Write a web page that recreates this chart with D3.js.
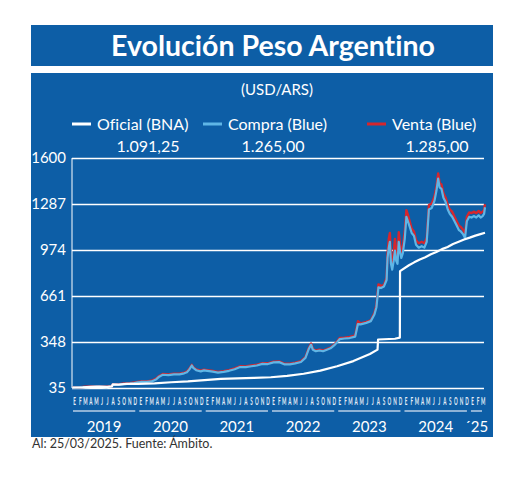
<!DOCTYPE html>
<html>
<head>
<meta charset="utf-8">
<script src="https://cdn.jsdelivr.net/npm/d3@7"></script>
<style>
    body { margin: 0; background: #fff; }
    text { font-family: Lato, "Open Sans", sans-serif; font-variant-ligatures: none; }
</style>
</head>
<body>
<svg id="chart" width="520" height="477"></svg>
<script>
// Blue market (compra / venta) sampled from the chart
const blueDates = [
    "2019-01-02", "2019-01-20", "2019-02-15", "2019-03-15", "2019-04-15", "2019-05-15", "2019-06-15", "2019-07-10",
    "2019-08-08", "2019-08-14", "2019-09-01", "2019-09-20", "2019-10-15", "2019-11-15", "2019-12-10", "2019-12-28",
    "2020-01-15", "2020-02-15", "2020-03-15", "2020-04-10", "2020-04-25", "2020-05-15", "2020-06-15", "2020-07-15",
    "2020-08-15", "2020-09-10", "2020-09-25", "2020-10-08", "2020-10-22", "2020-10-30", "2020-11-15", "2020-12-10",
    "2020-12-28", "2021-01-15", "2021-02-15", "2021-03-15", "2021-04-15", "2021-05-15", "2021-06-15", "2021-07-15",
    "2021-08-15", "2021-09-15", "2021-10-15", "2021-11-15", "2021-12-15", "2022-01-15", "2022-02-15", "2022-03-15",
    "2022-04-15", "2022-05-15", "2022-06-15", "2022-07-10", "2022-07-28", "2022-08-10", "2022-08-20", "2022-09-05",
    "2022-09-25", "2022-10-15", "2022-11-05", "2022-11-25", "2022-12-15", "2022-12-30", "2023-01-15", "2023-02-10",
    "2023-03-10", "2023-04-10", "2023-04-25", "2023-05-10", "2023-06-10", "2023-07-05", "2023-07-25", "2023-08-05",
    "2023-08-16", "2023-08-30", "2023-09-15", "2023-09-30", "2023-10-05", "2023-10-12", "2023-10-18", "2023-10-24",
    "2023-10-31", "2023-11-08", "2023-11-15", "2023-11-22", "2023-11-29", "2023-12-06", "2023-12-13", "2023-12-20",
    "2023-12-28", "2024-01-08", "2024-01-17", "2024-01-25", "2024-02-05", "2024-02-15", "2024-02-28", "2024-03-10",
    "2024-03-25", "2024-04-10", "2024-04-25", "2024-05-08", "2024-05-20", "2024-06-05", "2024-06-20", "2024-07-01",
    "2024-07-10", "2024-07-18", "2024-07-28", "2024-08-08", "2024-08-20", "2024-09-01", "2024-09-12", "2024-09-25",
    "2024-10-08", "2024-10-20", "2024-11-01", "2024-11-12", "2024-11-25", "2024-12-05", "2024-12-15", "2024-12-28",
    "2025-01-10", "2025-01-22", "2025-02-05", "2025-02-18", "2025-03-01", "2025-03-12", "2025-03-20", "2025-03-25"
];
const compra = [
    37.5, 37, 39, 41.5, 43, 44, 42.5, 41.5,
    45, 56, 57, 58, 63, 65, 68, 73,
    76, 77, 80, 95, 112, 125, 123, 128,
    128, 135, 142, 160, 188, 172, 156, 148,
    155, 152, 146, 140, 145, 152, 163, 178,
    177, 183, 188, 199, 198, 209, 211, 196,
    196, 203, 212, 240, 300, 330, 295, 285,
    290, 285, 295, 305, 325, 345, 368, 372,
    375, 385, 470, 468, 478, 490, 535, 585,
    720, 715, 725, 770, 920, 990, 1030, 880,
    840, 900, 970, 900, 880, 1030, 960, 920,
    950, 1050, 1200, 1170, 1130, 1090, 1070, 1010,
    990, 1000, 990, 1030, 1250, 1260, 1310, 1380,
    1460, 1400, 1390, 1330, 1300, 1250, 1220, 1200,
    1170, 1140, 1110, 1100, 1080, 1055, 1170, 1200,
    1195, 1205, 1195, 1210, 1195, 1205, 1220, 1265
];
const venta = [
    39, 38.5, 40.5, 43.5, 45, 46, 44.5, 43.5,
    47, 60, 60, 61, 66, 68, 72, 77,
    79, 80, 84, 100, 117, 130, 128, 133,
    133, 140, 147, 165, 193, 177, 161, 153,
    160, 157, 151, 145, 150, 157, 168, 183,
    182, 188, 193, 204, 203, 214, 216, 201,
    201, 208, 217, 245, 306, 338, 300, 290,
    295, 290, 300, 310, 330, 350, 375, 377,
    382, 392, 490, 475, 485, 495, 545, 600,
    740, 730, 735, 785, 950, 1050, 1090, 940,
    880, 950, 1050, 960, 920, 1095, 1010, 960,
    990, 1100, 1245, 1215, 1165, 1120, 1100, 1040,
    1020, 1030, 1020, 1055, 1280, 1290, 1340, 1410,
    1495, 1430, 1420, 1360, 1330, 1280, 1250, 1235,
    1200, 1170, 1140, 1130, 1110, 1085, 1200, 1230,
    1225, 1235, 1225, 1240, 1225, 1235, 1245, 1285
];

// Official rate (Banco Nación)
const oficialDates = [
    "2019-01-02", "2019-03-01", "2019-04-15", "2019-06-01", "2019-07-15", "2019-08-09", "2019-08-13", "2019-09-15",
    "2019-10-31", "2019-12-31", "2020-03-31", "2020-06-30", "2020-09-30", "2020-12-31", "2021-03-31", "2021-06-30",
    "2021-09-30", "2021-12-31", "2022-03-31", "2022-06-30", "2022-09-30", "2022-12-31", "2023-03-31", "2023-06-30",
    "2023-08-11", "2023-08-14", "2023-11-15", "2023-12-12", "2023-12-13", "2024-01-31", "2024-02-29", "2024-03-31",
    "2024-04-30", "2024-05-31", "2024-06-30", "2024-07-31", "2024-08-31", "2024-09-30", "2024-10-31", "2024-11-30",
    "2024-12-31", "2025-01-31", "2025-02-28", "2025-03-25"
];
const oficial = [
    38.5, 40, 43, 44, 42.5, 46, 59, 58,
    63, 63, 67, 74, 80, 89, 97, 101,
    104, 108, 117, 132, 153, 183, 218, 266,
    296, 365, 370, 378, 830, 870, 890, 910,
    925, 945, 960, 980, 995, 1015, 1030, 1045,
    1058, 1072, 1082, 1091.25
];

const yTicks = [35, 348, 661, 974, 1287, 1600];
const monthLetters = ["E", "F", "M", "A", "M", "J", "J", "A", "S", "O", "N", "D"];
const years = ["2019", "2020", "2021", "2022", "2023", "2024", "´25"];
const seriesNames = ["Oficial (BNA)", "Compra (Blue)", "Venta (Blue)"];

const BLUE = "#0d5ea6";
const LIGHT = "#5fb6e6";
const RED = "#d6262d";
const LEFT = 72, RIGHT = 485, TOP = 158, BOTTOM = 388;

const parse = d3.timeParse("%Y-%m-%d");
const es = d3.formatLocale({decimal: ",", thousands: ".", grouping: [3], currency: ["$", ""]});
const fmt = es.format(",.2f");

let svg = d3.select("#chart");

// panels
svg.append("rect")
    .attr("x", 31).attr("y", 25)
    .attr("width", 462).attr("height", 41)
    .attr("fill", BLUE);
svg.append("rect")
    .attr("x", 31).attr("y", 73)
    .attr("width", 462).attr("height", 364)
    .attr("fill", BLUE);

svg.append("text")
    .text("Evolución Peso Argentino")
    .attr("x", 273).attr("y", 56)
    .attr("text-anchor", "middle")
    .attr("fill", "#fff")
    .style("font-size", "28.5px")
    .style("font-weight", "bold");

svg.append("text")
    .text("(USD/ARS)")
    .attr("x", 277).attr("y", 95)
    .attr("text-anchor", "middle")
    .attr("fill", "#fff")
    .style("font-size", "15px");

// legend
let lastValues = [oficial[oficial.length - 1], compra[compra.length - 1], venta[venta.length - 1]];
let legend = [
    {name: seriesNames[0], color: "#fff", x: 72, val: 148},
    {name: seriesNames[1], color: LIGHT, x: 203, val: 273},
    {name: seriesNames[2], color: RED, x: 367, val: 437}
];
legend.forEach((d, i) => {
    svg.append("line")
        .attr("x1", d.x).attr("x2", d.x + 19)
        .attr("y1", 124).attr("y2", 124)
        .attr("stroke", d.color)
        .attr("stroke-width", 3);
    svg.append("text")
        .text(d.name)
        .attr("x", d.x + 25).attr("y", 130)
        .attr("fill", "#fff")
        .style("font-size", "16px");
    svg.append("text")
        .text(fmt(lastValues[i]))
        .attr("x", d.val).attr("y", 152)
        .attr("text-anchor", "middle")
        .attr("fill", "#fff")
        .style("font-size", "16px");
});

let x = d3.scaleTime()
    .domain([parse("2019-01-01"), parse("2025-03-25")])
    .range([LEFT, RIGHT]);
let y = d3.scaleLinear()
    .domain([35, 1600])
    .range([BOTTOM, TOP]);

// grid + y labels
let yAxis = svg.append("g")
    .attr("transform", "translate(" + LEFT + ",0)")
    .call(d3.axisLeft(y).tickValues(yTicks).tickSize(-(RIGHT - LEFT - 1)).tickPadding(6).tickFormat(d => d));
yAxis.select(".domain").remove();
yAxis.selectAll("line")
    .attr("stroke", "#fff")
    .attr("stroke-width", 1.6);
yAxis.selectAll("text")
    .attr("fill", "#fff")
    .style("font-size", "15px")
    .style("font-family", "Lato, sans-serif");

svg.append("line")
    .attr("x1", LEFT).attr("x2", LEFT)
    .attr("y1", TOP).attr("y2", BOTTOM)
    .attr("stroke", "#fff")
    .attr("stroke-width", 1);

// month letters, centred a little inside each month
let months = d3.timeMonth.range(parse("2019-01-01"), parse("2025-04-01"));
let xAxis = svg.append("g")
    .attr("transform", "translate(0,396)")
    .call(d3.axisBottom(x).tickValues(months).tickSize(0).tickPadding(1).tickFormat(d => monthLetters[d.getMonth()]));
xAxis.select(".domain").remove();
xAxis.selectAll("text")
    .attr("text-anchor", "middle")
    .attr("x", 5)
    .attr("transform", "scale(0.42,1)")
    .attr("fill", "#e4edf7")
    .style("font-size", "11px")
    .style("font-weight", "bold")
    .style("font-family", "Lato, sans-serif");

// year brackets
years.forEach((label, i) => {
    let start = new Date(2019 + i, 0, 1);
    let end = i < years.length - 1 ? new Date(2020 + i, 0, 1) : parse("2025-03-25");
    let x1 = x(start) + 1, x2 = x(end) - 3;
    svg.append("line")
        .attr("x1", x1).attr("x2", x2)
        .attr("y1", 411).attr("y2", 411)
        .attr("stroke", "#b9cfe6")
        .attr("stroke-width", 1.5);
    svg.append("text")
        .text(label)
        .attr("x", (x1 + x2) / 2).attr("y", 432)
        .attr("text-anchor", "middle")
        .attr("fill", "#fff")
        .style("font-size", "15px");
});

// series
let line = d3.line()
    .x(d => x(d.date))
    .y(d => y(d.value));
let zip = (dates, values) => dates.map((d, i) => ({date: parse(d), value: values[i]}));

svg.append("path")
    .datum(zip(blueDates, venta))
    .attr("d", line)
    .attr("fill", "none")
    .attr("stroke", RED)
    .attr("stroke-width", 2.4)
    .attr("stroke-linejoin", "round");
svg.append("path")
    .datum(zip(blueDates, compra))
    .attr("d", line)
    .attr("fill", "none")
    .attr("stroke", LIGHT)
    .attr("stroke-width", 2.2)
    .attr("stroke-linejoin", "round");
svg.append("path")
    .datum(zip(oficialDates, oficial))
    .attr("d", line)
    .attr("fill", "none")
    .attr("stroke", "#fff")
    .attr("stroke-width", 2.2)
    .attr("stroke-linejoin", "round");

svg.append("text")
    .text("Al: 25/03/2025. Fuente: Ámbito.")
    .attr("x", 32).attr("y", 448)
    .attr("fill", "#333")
    .style("font-size", "12.5px");
</script>
</body>
</html>
